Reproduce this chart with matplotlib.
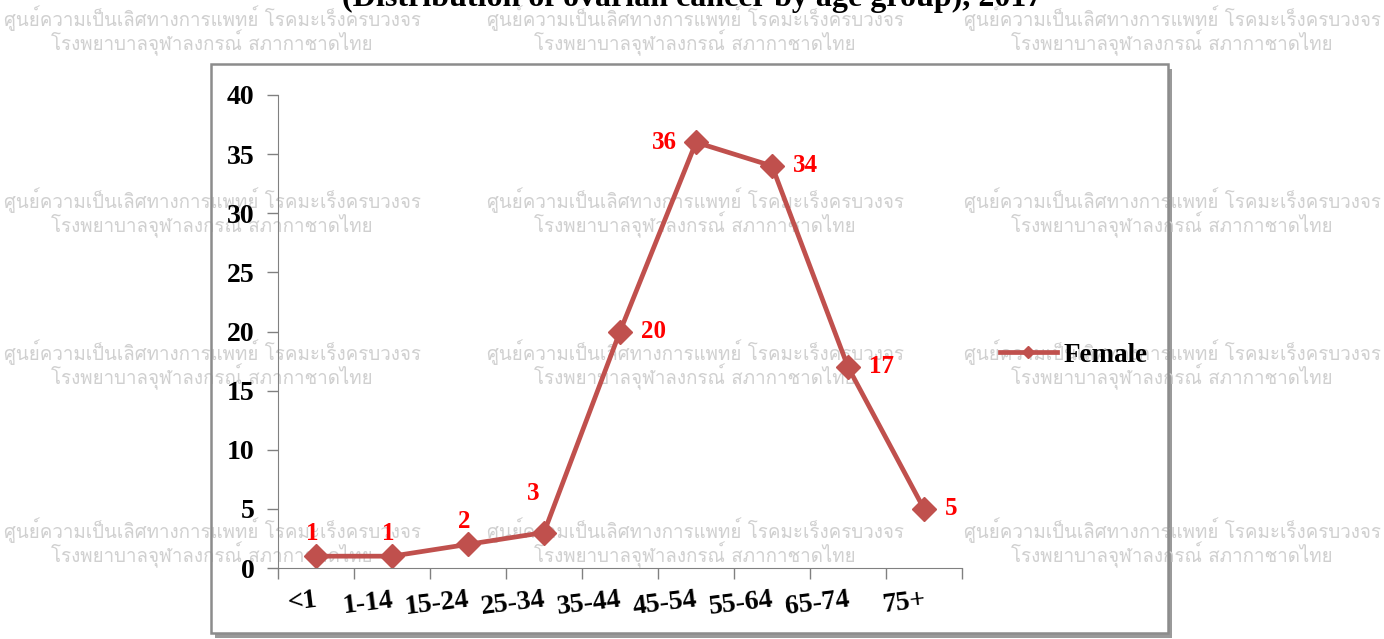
import matplotlib
matplotlib.use("Agg")
import matplotlib.pyplot as plt
import matplotlib.patches as mpatches
from matplotlib import font_manager
from matplotlib.ft2font import FT2Font

# ── data ─────────────────────────────────────────────────────────
age_groups = ["<1", "1-14", "15-24", "25-34", "35-44", "45-54", "55-64", "65-74", "75+"]
female = [1, 1, 2, 3, 20, 36, 34, 17, 5]
label_pos = ["up", "up", "up", "upleft", "right", "left", "right", "right", "right"]

title = "(Distribution of ovarian cancer by age group), 2017"
wm_line1 = "ศูนย์ความเป็นเลิศทางการแพทย์ โรคมะเร็งครบวงจร"
wm_line2 = "โรงพยาบาลจุฬาลงกรณ์ สภากาชาดไทย"


def find_thai_family():
    names = []
    for f in font_manager.fontManager.ttflist:
        try:
            ft = FT2Font(f.fname)
            if ft.get_char_index(ord("ศ")):
                names.append(f.name)
        except Exception:
            pass
    return names


thai = find_thai_family()
wm_family = (thai[:1] if thai else []) + ["DejaVu Sans"]

W, H = 1384, 639
fig = plt.figure(figsize=(W / 100, H / 100), dpi=100)
serif = "Liberation Serif"


def fx(px):
    return px / W


def fy(py):
    return 1 - py / H


# ── frame with shadow ────────────────────────────────────────────
fl, ft_, fr, fb = 211, 64, 1168, 633
fig.patches.append(mpatches.Rectangle((fx(fl + 4), fy(fb + 5)), fx(fr - fl), fy(ft_) - fy(fb),
                                      transform=fig.transFigure, facecolor="#9a9a9a",
                                      edgecolor="none", zorder=0))
fig.patches.append(mpatches.Rectangle((fx(fl), fy(fb)), fx(fr - fl), fy(ft_) - fy(fb),
                                      transform=fig.transFigure, facecolor="white",
                                      edgecolor="none", zorder=0.5))

# ── watermarks ───────────────────────────────────────────────────
for cx in [212, 695, 1172]:
    for y1 in [18, 200, 352, 530]:
        fig.text(fx(cx), fy(y1), wm_line1, ha="center", va="center", fontsize=13.5,
                 color="#d0d0d0", family=wm_family, zorder=1)
        fig.text(fx(cx), fy(y1 + 25), wm_line2, ha="center", va="center", fontsize=13.5,
                 color="#d0d0d0", family=wm_family, zorder=1)

fig.patches.append(mpatches.Rectangle((fx(fl), fy(fb)), fx(fr - fl), fy(ft_) - fy(fb),
                                      transform=fig.transFigure, facecolor="none",
                                      edgecolor="#8c8c8c", linewidth=1.8, zorder=2))

fig.text(0.5, fy(6), title, ha="center", va="baseline", fontsize=23,
         fontweight="bold", family=serif, zorder=3)

# ── axes ─────────────────────────────────────────────────────────
ax = fig.add_axes([fx(278), fy(568), fx(962 - 278), fy(95) - fy(568)], zorder=5)
ax.patch.set_alpha(0)

xs = [i + 0.5 for i in range(len(age_groups))]
ax.plot(xs, female, color="#c0504d", linewidth=3.4, marker="D", markersize=12,
        label="Female", clip_on=False)

offsets = {"up": (-3, 8), "upleft": (-8, 20), "right": (15, 0), "left": (-14, 0)}
align = {"up": ("center", "bottom"), "upleft": ("center", "bottom"),
         "right": ("left", "center"), "left": ("right", "center")}
for x, v, p in zip(xs, female, label_pos):
    ha, va = align[p]
    ax.annotate(str(v), (x, v), xytext=offsets[p], textcoords="offset points",
                ha=ha, va=va, color="#ff0000", fontsize=18, fontweight="bold", family=serif)

ax.set_xlim(0, len(age_groups))
ax.set_ylim(0, 40)
ax.set_yticks(range(0, 41, 5))
ax.set_xticks(range(len(age_groups) + 1))
ax.set_xticklabels([])
ax.set_xticks(xs, minor=True)
ax.set_xticklabels(age_groups, minor=True, rotation=7, fontsize=20, ha="right",
                   rotation_mode="anchor", fontweight="bold", family=serif)
ax.tick_params(axis="x", which="minor", length=0, pad=14)
ax.tick_params(axis="both", which="major", length=8, color="#808080", width=1)
for lab in ax.get_yticklabels():
    lab.set_fontsize(20)
    lab.set_fontweight("bold")
    lab.set_family(serif)
ax.tick_params(axis="y", pad=9)

for s in ["top", "right"]:
    ax.spines[s].set_visible(False)
for s in ["left", "bottom"]:
    ax.spines[s].set_color("#808080")

leg = ax.legend(loc="center left",
                bbox_to_anchor=(fx(1000 - 278) / fx(962 - 278), (568 - 355) / (568 - 95)),
                frameon=False, handlelength=2.1, handletextpad=0.25, markerscale=0.55,
                borderpad=0, borderaxespad=0,
                prop={"family": serif, "weight": "bold", "size": 19.5})

fig.savefig("out.png", dpi=100)
